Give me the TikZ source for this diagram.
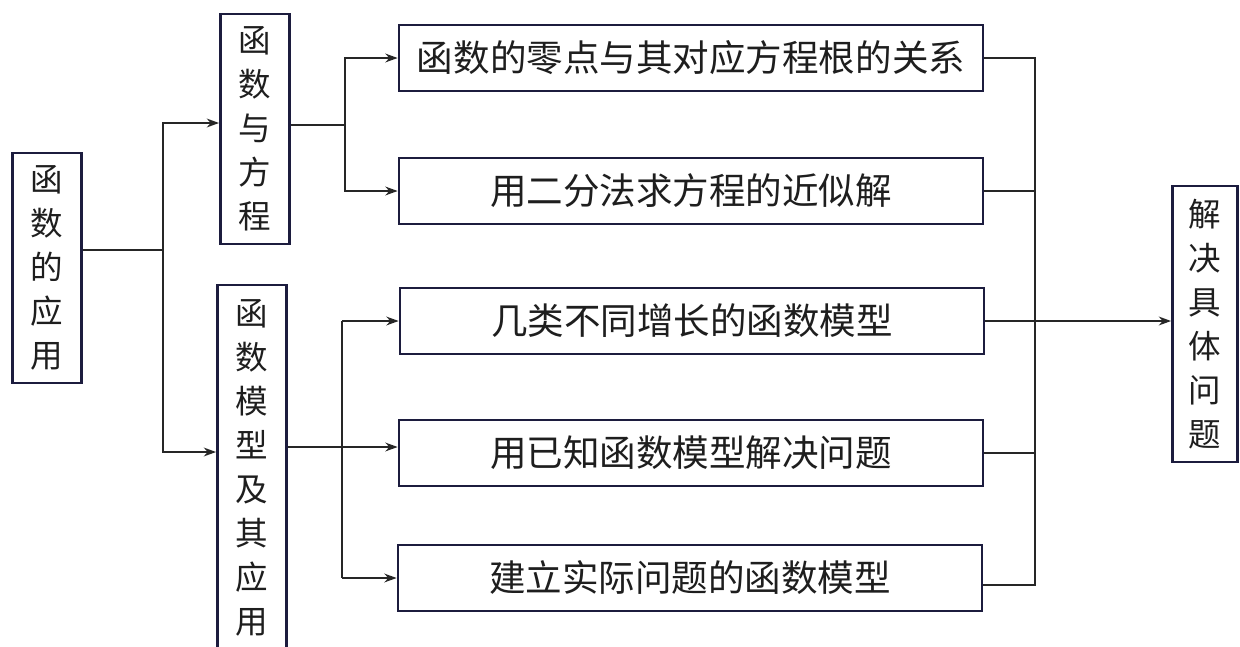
\documentclass[tikz,border=0pt]{standalone}
\usepackage{fontspec}
\setmainfont{Noto Sans CJK SC}
\usetikzlibrary{arrows.meta}
\definecolor{boxline}{RGB}{28,28,62}
\definecolor{wire}{RGB}{38,38,38}
\definecolor{ink}{RGB}{30,30,30}
\begin{document}
\begin{tikzpicture}[
    x=0.02cm, y=-0.02cm,
    box/.style={draw=boxline, line width=1.6pt, fill=white, inner sep=0pt, text=ink,
                minimum width=11.68cm, minimum height=1.32cm,
                font=\fontsize{20.8}{25}\selectfont},
    vbox/.style={box, align=center, minimum width=1.38cm,
                 font=\fontsize{18.5}{25}\selectfont},
    edge/.style={draw=wire, line width=1.1pt},
    arr/.style={edge, -{Stealth[length=7pt, width=5pt]}}
]
\useasboundingbox (0,0) rectangle (1240,646);
\clip (0,0) rectangle (1240,646);

% left column
\node[vbox, minimum height=4.6cm]  (fnApp)   at (47,268)  {函\\数\\的\\应\\用};
\node[vbox, minimum height=4.6cm]  (fnEq)    at (255,129) {函\\数\\与\\方\\程};
\node[vbox, minimum height=7.32cm] (fnModel) at (252,468) {函\\数\\模\\型\\及\\其\\应\\用};

% middle column
\node[box] (r1) at (691,58)  {函数的零点与其对应方程根的关系};
\node[box] (r2) at (691,191) {用二分法求方程的近似解};
\node[box] (r3) at (692,321) {几类不同增长的函数模型};
\node[box] (r4) at (691,453) {用已知函数模型解决问题};
\node[box] (r5) at (690,578) {建立实际问题的函数模型};

% right
\node[vbox, minimum width=1.3cm, minimum height=5.52cm] (solve) at (1205,324) {解\\决\\具\\体\\问\\题};

\coordinate (j0) at (163,250);
\coordinate (j1) at (345,125);
\coordinate (j2) at (342,447);
\coordinate (j3) at (1035,320);

\draw[edge] (fnApp.east |- j0) -- (j0);
\draw[arr] (j0) |- (fnEq.west |- 0,123);
\draw[arr] (j0) |- (fnModel.west |- 0,452);

\draw[edge] (fnEq.east |- j1) -- (j1);
\draw[arr] (j1) |- (r1.west);
\draw[arr] (j1) |- (r2.west);

\draw[arr] (fnModel.east |- j2) -- (r4.west |- j2);
\draw[edge] (j2 |- r3.west) -- (j2 |- r5.west);
\draw[arr] (j2 |- r3.west) -- (r3.west);
\draw[arr] (j2 |- r5.west) -- (r5.west);

\draw[edge] (r1.east) -| (j3);
\draw[edge] (r5.east |- 0,585) -| (j3);
\draw[edge] (r2.east) -- (j3 |- r2.east);
\draw[edge] (r4.east) -- (j3 |- r4.east);
\draw[arr] (r3.east) -- (r3.east -| solve.west);

\end{tikzpicture}
\end{document}
